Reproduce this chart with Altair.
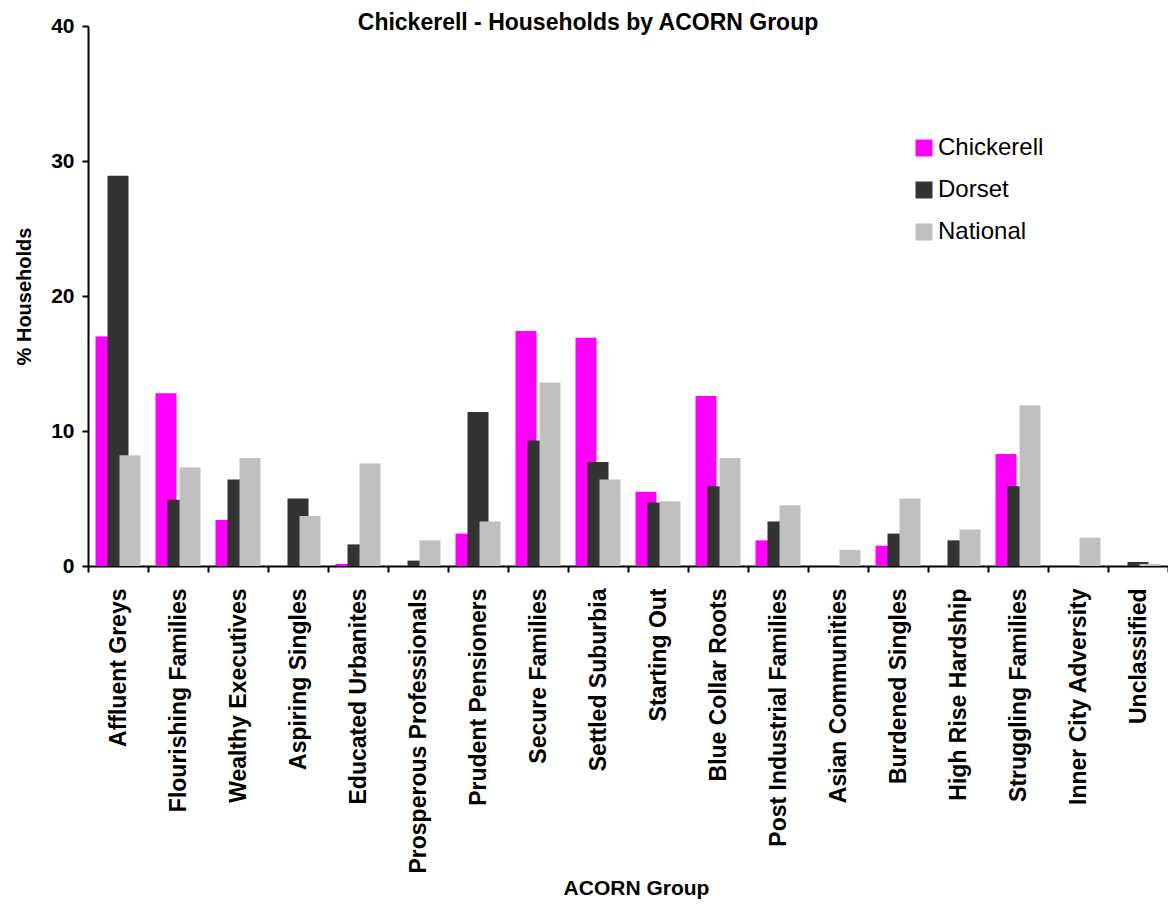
import altair as alt
import pandas as pd

categories = [
    "Affluent Greys", "Flourishing Families", "Wealthy Executives", "Aspiring Singles",
    "Educated Urbanites", "Prosperous Professionals", "Prudent Pensioners", "Secure Families",
    "Settled Suburbia", "Starting Out", "Blue Collar Roots", "Post Industrial Families",
    "Asian Communities", "Burdened Singles", "High Rise Hardship", "Struggling Families",
    "Inner City Adversity", "Unclassified",
]
chickerell = [17.0, 12.8, 3.4, 0.0, 0.15, 0.0, 2.4, 17.4, 16.9, 5.5, 12.6, 1.9, 0.0, 1.5, 0.0, 8.3, 0.0, 0.0]
dorset = [28.9, 4.9, 6.4, 5.0, 1.6, 0.4, 11.4, 9.3, 7.7, 4.7, 5.9, 3.3, 0.0, 2.4, 1.9, 5.9, 0.0, 0.3]
national = [8.2, 7.3, 8.0, 3.7, 7.6, 1.9, 3.3, 13.6, 6.4, 4.8, 8.0, 4.5, 1.2, 5.0, 2.7, 11.9, 2.1, 0.15]

series = ["Chickerell", "Dorset", "National"]
colors = ["#FF00FF", "#333333", "#C0C0C0"]
offsets = [-12, 0, 12]

rows = []
for s, vals in zip(series, [chickerell, dorset, national]):
    for c, v in zip(categories, vals):
        rows.append({"group": c, "series": s, "value": v})
df = pd.DataFrame(rows)

FONT = "Liberation Sans"

x = alt.X(
    "group:N", sort=categories,
    scale=alt.Scale(paddingInner=0, paddingOuter=0),
    axis=alt.Axis(
        title="ACORN Group", labelAngle=270, labelFontSize=23, labelFontWeight="bold",
        labelFont=FONT, labelColor="black", labelPadding=16, labelLimit=400,
        labelOverlap=False, tickBand="extent", tickSize=6, tickWidth=2,
        tickColor="black", domainColor="black", domainWidth=2,
        titleFontSize=21, titleFontWeight="bold", titleFont=FONT, titleColor="black",
        titleX=548, titleY=328, titleBaseline="alphabetic",
    ),
)
y = alt.Y(
    "value:Q", scale=alt.Scale(domain=[0, 40]),
    axis=alt.Axis(
        title="% Households", values=[0, 10, 20, 30, 40], grid=False,
        labelFontSize=21, labelFontWeight="bold", labelFont=FONT, labelColor="black",
        labelPadding=8, tickSize=6, tickWidth=2, tickColor="black",
        domainColor="black", domainWidth=2,
        titleFontSize=20, titleFontWeight="bold", titleFont=FONT, titleColor="black",
        titleX=-58, titleY=270, titleBaseline="alphabetic", titleAngle=270,
    ),
)
color = alt.Color(
    "series:N", scale=alt.Scale(domain=series, range=colors),
    legend=alt.Legend(
        title=None, orient="none", legendX=824, legendY=110,
        symbolType="square", symbolSize=289, symbolStrokeWidth=0,
        labelFontSize=24, labelFont=FONT, labelColor="black", labelOffset=2,
        rowPadding=18, padding=0, offset=0,
    ),
)

base = alt.Chart(df).encode(x=x, y=y, color=color)
layers = [
    base.transform_filter(alt.datum.series == s).mark_bar(width=21, xOffset=o)
    for s, o in zip(series, offsets)
]

chart = alt.layer(*layers).properties(
    width=1080, height=540,
    title=alt.TitleParams(
        text="Chickerell - Households by ACORN Group", fontSize=23, fontWeight="bold",
        font=FONT, color="black", anchor="middle", dx=-40, offset=-38,
        baseline="alphabetic",
    ),
    padding={"left": 80, "top": 18, "right": 0, "bottom": 334},
    autosize="none",
).configure_view(stroke=None)

chart.save("out.html", embed_options={"renderer": "svg", "actions": False})
